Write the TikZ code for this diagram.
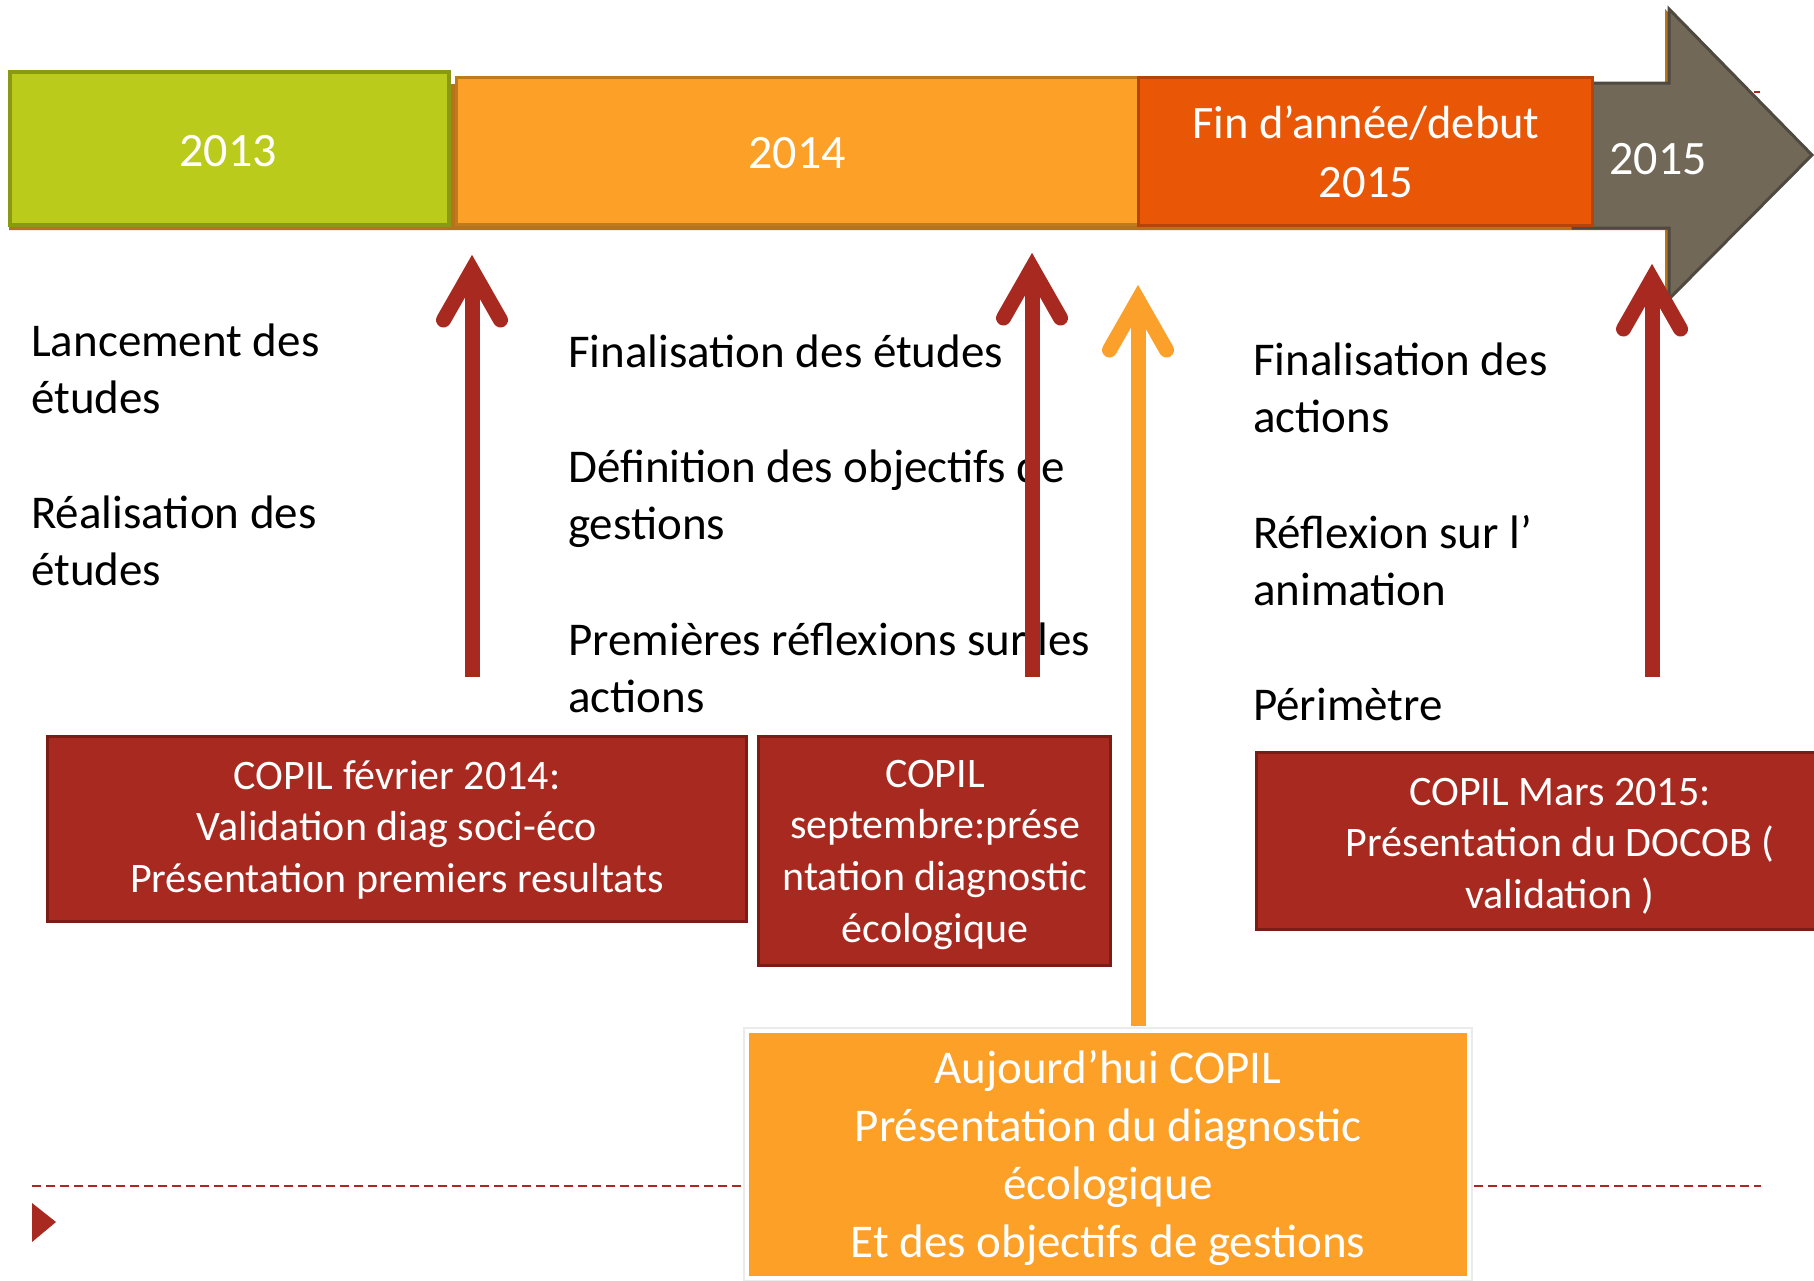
\documentclass[tikz,border=0pt]{standalone}
\usepackage{fontspec}
\setmainfont{Carlito}
\usetikzlibrary{calc}
\definecolor{cgreen}{HTML}{BBCB1C}
\definecolor{cgreenD}{HTML}{8A9914}
\definecolor{corange}{HTML}{FDA027}
\definecolor{corangeD}{HTML}{C07A1E}
\definecolor{cfin}{HTML}{E95706}
\definecolor{cfinD}{HTML}{B5430A}
\definecolor{cgray}{HTML}{716858}
\definecolor{cgrayD}{HTML}{4F4A40}
\definecolor{cbrown}{HTML}{B8721A}
\definecolor{cred}{HTML}{A8291F}
\definecolor{credD}{HTML}{7C1C14}
\definecolor{carrow}{HTML}{FBA12B}
\newcommand\leftlines[1]{\vtop{\halign{##\hfil\cr#1\crcr}}}
\newcommand\ctrlines[1]{\vtop{\halign{\hfil##\hfil\cr#1\crcr}}}
\newcommand\tiphead[2]{\draw[#1, barb] ($(#2)+(-28.5,50)$) -- (#2) -- ($(#2)+(28.5,50)$);}
\begin{document}
\begin{tikzpicture}[x=1pt,y=-1pt,
  yearbox/.style={draw, line width=3pt, inner sep=0pt},
  yeartext/.style={text=white, inner sep=0pt, anchor=base, font=\fontsize{48}{59}\selectfont},
  bodytext/.style={inner sep=0pt, anchor=base west, font=\fontsize{47}{57.5}\selectfont},
  copil/.style={draw=credD, fill=cred, line width=3pt, inner sep=0pt},
  copiltext/.style={text=white, inner sep=0pt, anchor=base, font=\fontsize{42}{51.7}\selectfont},
  todaybox/.style={draw=white, fill=corange, line width=4pt, inner sep=0pt},
  todaytext/.style={text=white, inner sep=0pt, anchor=base, font=\fontsize{47}{58}\selectfont},
  shaft/.style={line width=15pt},
  barb/.style={line width=15pt, line cap=round, line join=miter},
]
\useasboundingbox (0,0) rectangle (1814,1280);
\clip (0,0) rectangle (1814,1280);
\fill[white] (0,0) rectangle (1814,1280);

% dashed separator and marker
\coordinate (dl1) at (32,1186);
\coordinate (dl2) at (1761,1186);
\draw[cred, line width=2.5pt, dash pattern=on 9pt off 5pt] (dl1) -- (dl2);
\fill[cred] (32,1203) -- (56,1222) -- (32,1242) -- cycle;
\draw[cred, line width=2pt] (1754,92) -- (1760,92);

% timeline arrow (background and grey head)
\fill[cbrown] (9,84) -- (1665,84) -- (1665,9) -- (1808,155) -- (1665,301) -- (1665,230) -- (9,230) -- cycle;
\filldraw[fill=cgray, draw=cgrayD, line width=3pt, line join=miter]
  (1573,83) -- (1669,83) -- (1669,9) -- (1812,155) -- (1669,299) -- (1669,228) -- (1573,228) -- cycle;
\node[yeartext] (y15) at (1658,174) {2015};

% year boxes
\node[yearbox, draw=cgreenD, line width=4pt, fill=cgreen, minimum width=439pt, minimum height=153pt] (y13) at (229.5,148.5) {};
\node[yeartext] (y13t) at (228,166) {2013};
\node[yearbox, draw=corangeD, fill=corange, minimum width=682pt, minimum height=147pt] (y14) at (797,150.5) {};
\node[yeartext] (y14t) at (797,168) {2014};
\node[yearbox, draw=cfinD, fill=cfin, minimum width=454pt, minimum height=148pt] (yfin) at (1365,151) {};
\node[yeartext, font=\fontsize{46.5}{59}\selectfont] (yfint) at (1366,138) {\ctrlines{Fin d’année/debut\cr 2015}};

% texts
\node[bodytext] (lanc) at (31,356) {\leftlines{Lancement des\cr études}};
\node[bodytext] (real) at (31,528) {\leftlines{Réalisation des\cr études}};
\node[bodytext] (fin1) at (568,367) {Finalisation des études};
\node[bodytext] (def) at (568,482) {\leftlines{Définition des objectifs de\cr gestions}};
\node[bodytext] (prem) at (568,655) {\leftlines{Premières réflexions sur les\cr actions}};
\node[bodytext] (finact) at (1253,375) {\leftlines{Finalisation des\cr actions}};
\node[bodytext] (refl) at (1253,548) {\leftlines{Réflexion sur l’\cr animation}};
\node[bodytext] (peri) at (1253,720) {Périmètre};

% COPIL boxes
\node[copil, minimum width=699pt, minimum height=185pt] (c1) at (396.5,828.5) {};
\node[copiltext] (c1t) at (397,789) {\ctrlines{COPIL février 2014:\cr Validation diag soci-éco\cr Présentation premiers resultats}};
\node[copil, minimum width=352pt, minimum height=229pt] (c2) at (934,850.5) {};
\node[copiltext] (c2t) at (935,787) {\ctrlines{COPIL\cr septembre:prése\cr ntation diagnostic\cr écologique}};
\node[copil, minimum width=608pt, minimum height=177pt] (c3) at (1560,840.5) {};
\node[copiltext] (c3t) at (1560,805) {\ctrlines{COPIL Mars 2015:\cr Présentation du DOCOB (\cr validation )}};

% today box
\fill[black!8] (743,1027) rectangle (1473,1290);
\node[todaybox, minimum width=722pt, minimum height=247pt] (today) at (1108,1154.5) {};
\node[todaytext] (todayt) at (1108,1083) {\ctrlines{Aujourd’hui COPIL\cr Présentation du diagnostic\cr écologique\cr Et des objectifs de gestions}};

% arrows
\coordinate (r1t) at (472,270); \coordinate (r1b) at (472,677);
\coordinate (r2t) at (1032,268); \coordinate (r2b) at (1032,677);
\coordinate (r3t) at (1652,279); \coordinate (r3b) at (1652,677);
\coordinate (oat) at (1138,300);
\draw[cred, shaft] (r1b) -- (r1t);
\tiphead{cred}{r1t}
\draw[cred, shaft] (r2b) -- (r2t);
\tiphead{cred}{r2t}
\draw[cred, shaft] (r3b) -- (r3t);
\tiphead{cred}{r3t}
\draw[carrow, shaft] ($(oat |- today.north)+(0,-3)$) -- (oat);
\tiphead{carrow}{oat}
\end{tikzpicture}
\end{document}
